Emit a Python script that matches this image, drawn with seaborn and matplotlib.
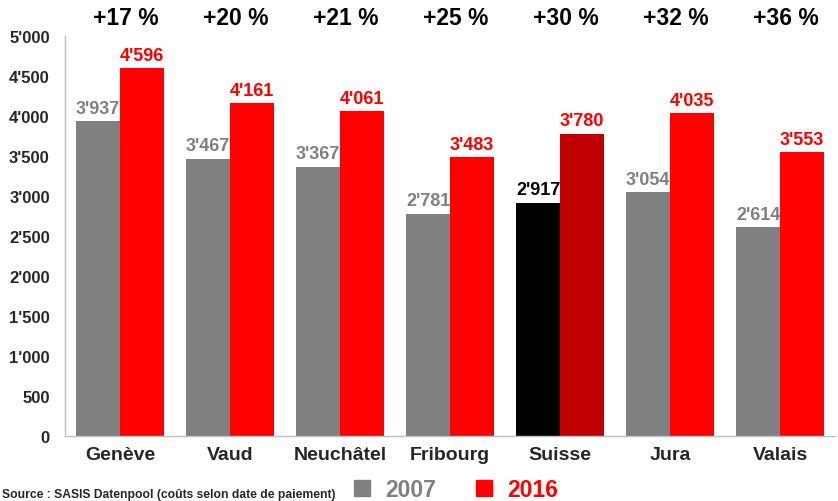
import matplotlib.pyplot as plt
import numpy as np
import pandas as pd
import seaborn as sns
from matplotlib.lines import Line2D

# Data
regions = ["Genève", "Vaud", "Neuchâtel", "Fribourg", "Suisse", "Jura", "Valais"]
costs_2007 = [3937, 3467, 3367, 2781, 2917, 3054, 2614]
costs_2016 = [4596, 4161, 4061, 3483, 3780, 4035, 3553]
growth = ["+17 %", "+20 %", "+21 %", "+25 %", "+30 %", "+32 %", "+36 %"]
yticks = [0, 500, 1000, 1500, 2000, 2500, 3000, 3500, 4000, 4500, 5000]

df = pd.DataFrame({
    "region": regions * 2,
    "cost": costs_2007 + costs_2016,
    "year": ["2007"] * len(regions) + ["2016"] * len(regions),
})

sns.set_theme(style="white")
plt.rcParams["font.family"] = ["Liberation Sans", "DejaVu Sans"]
plt.rcParams["font.weight"] = "bold"

GRAY = "#808080"
RED = "#FF0000"

fig = plt.figure(figsize=(8.38, 5.02), dpi=100)
ax = fig.add_axes([0.0776, 0.1295, 0.919, 0.7968])

sns.barplot(data=df, x="region", y="cost", hue="year", order=regions,
            hue_order=["2007", "2016"], palette=[GRAY, RED], width=0.8,
            saturation=1, linewidth=0, legend=False, ax=ax)

# highlight Suisse (national average)
n = len(regions)
suisse = regions.index("Suisse")
bars = ax.patches
bars[suisse].set_facecolor("#000000")
bars[n + suisse].set_facecolor("#C00000")

def fmt(v):
    return f"{v:,}".replace(",", "'")

for i, p in enumerate(bars[:2 * n]):
    series = i // n
    idx = i % n
    if series == 0:
        color = "#000000" if idx == suisse else GRAY
    else:
        color = RED
    ax.annotate(fmt(int(p.get_height())),
                (p.get_x() + p.get_width() / 2, p.get_height()),
                xytext=(0, 3), textcoords="offset points",
                ha="center", va="bottom", fontsize=13, fontweight="bold",
                color=color)

for i, g in enumerate(growth):
    ax.text(i + 0.05, 1.047, g, transform=ax.get_xaxis_transform(), ha="center",
            va="center", fontsize=16.5, fontweight="bold", color="#000000")

ax.set_ylim(0, 5000)
ax.set_xlim(-0.5, n - 0.5)
ax.set_yticks(yticks)
ax.set_yticklabels([fmt(v) for v in yticks], fontsize=12, fontweight="bold")
ax.set_xticks(range(n))
ax.set_xticklabels(regions, fontsize=14, fontweight="bold")
ax.set_xticks(np.arange(-0.5, n, 1), minor=True)
ax.tick_params(axis="x", which="major", length=0, pad=7)
ax.tick_params(axis="x", which="minor", length=6, color="#BFBFBF", width=1)
ax.tick_params(axis="y", length=5, color="#BFBFBF", width=1, pad=6)
ax.set_xlabel("")
ax.set_ylabel("")

for side in ["top", "right"]:
    ax.spines[side].set_visible(False)
for side in ["left", "bottom"]:
    ax.spines[side].set_color("#BFBFBF")
    ax.spines[side].set_linewidth(1)

handles = [Line2D([], [], marker="s", color=GRAY, linestyle="", markersize=11),
           Line2D([], [], marker="s", color=RED, linestyle="", markersize=11)]
fig.legend(handles, ["2007", "2016"], loc="center", bbox_to_anchor=(0.535, 0.022),
           ncol=2, frameon=False, handletextpad=0.0, columnspacing=1.1,
           prop={"size": 16.5, "weight": "bold"}, labelcolor=[GRAY, RED])

fig.text(0.002, 0.002, "Source : SASIS Datenpool (coûts selon date de paiement)",
         fontsize=8.7, fontweight="bold", ha="left", va="bottom")

fig.savefig("out.png", dpi=100)
